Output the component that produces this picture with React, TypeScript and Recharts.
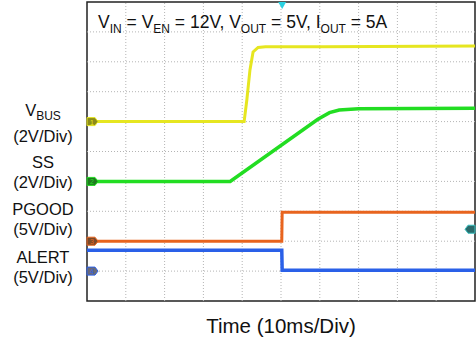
import React from "react";
import {
  LineChart,
  Line,
  XAxis,
  YAxis,
  ReferenceArea,
  ReferenceDot,
  ReferenceLine,
} from "recharts";

// x and y are in scope divisions (10 x 10 grid, y counted from the bottom)
const divTicks = [1, 2, 3, 4, 5, 6, 7, 8, 9];
const minorTicks = [
  0.2, 0.4, 0.6, 0.8, 1.2, 1.4, 1.6, 1.8, 2.2, 2.4, 2.6, 2.8, 3.2, 3.4, 3.6, 3.8, 4.2, 4.4, 4.6, 4.8,
  5.2, 5.4, 5.6, 5.8, 6.2, 6.4, 6.6, 6.8, 7.2, 7.4, 7.6, 7.8, 8.2, 8.4, 8.6, 8.8, 9.2, 9.4, 9.6, 9.8,
];

const vbus = [
  { x: 0, y: 6.0 },
  { x: 4.05, y: 6.0 },
  { x: 4.12, y: 6.73 },
  { x: 4.2, y: 7.73 },
  { x: 4.28, y: 8.33 },
  { x: 4.41, y: 8.48 },
  { x: 4.6, y: 8.5 },
  { x: 6.1, y: 8.5 },
  { x: 10, y: 8.53 },
];

const ss = [
  { x: 0, y: 4.0 },
  { x: 3.69, y: 4.0 },
  { x: 5.95, y: 6.08 },
  { x: 6.25, y: 6.3 },
  { x: 6.5, y: 6.39 },
  { x: 7, y: 6.43 },
  { x: 10, y: 6.45 },
];

const pgood = [
  { x: 0, y: 2.0 },
  { x: 5.02, y: 2.0 },
  { x: 5.03, y: 2.97 },
  { x: 10, y: 2.97 },
];

const alert = [
  { x: 0, y: 1.7 },
  { x: 5.02, y: 1.7 },
  { x: 5.03, y: 1.03 },
  { x: 10, y: 1.03 },
];

const channels = [
  { name: "1", level: 6, fill: "#8c8c1a", edge: "#e6e620" },
  { name: "2", level: 4, fill: "#1f7a1f", edge: "#22dd22" },
  { name: "3", level: 2, fill: "#7a4a2a", edge: "#e8641e" },
  { name: "4", level: 1, fill: "#6a6a78", edge: "#2a60e8" },
];

const triggerTime = 5.03;
const triggerLevel = 2.4;

const font = "'Liberation Sans', Arial, sans-serif";

const ChannelFlag = (props: any) => {
  const { cx, cy, fill, edge, name } = props;
  return (
    <g>
      <path
        d={`M${cx},${cy - 4} L${cx + 8},${cy - 4} L${cx + 11},${cy} L${cx + 8},${cy + 4} L${cx},${cy + 4} Z`}
        fill={fill}
        stroke={edge}
        strokeWidth={1}
      />
      <text x={cx + 5} y={cy + 3} fontSize={7} fill={edge} textAnchor="middle" fontFamily={font}>
        {name}
      </text>
    </g>
  );
};

const TrigFlag = (props: any) => {
  const { cx, cy } = props;
  return (
    <path
      d={`M${cx},${cy - 4} L${cx - 7},${cy - 4} L${cx - 10},${cy} L${cx - 7},${cy + 4} L${cx},${cy + 4} Z`}
      fill="#2a6a6a"
      stroke="#3ac0c0"
      strokeWidth={1}
    />
  );
};

const TrigTri = (props: any) => {
  const { cx, cy } = props;
  return <path d={`M${cx - 4},${cy} L${cx + 4},${cy} L${cx},${cy + 7} Z`} fill="#2ad0e0" />;
};

const sideLabels = [
  { top: 100, lines: [["V", "BUS"], ["(2V/Div)"]] },
  { top: 152, lines: [["SS"], ["(2V/Div)"]] },
  { top: 199, lines: [["PGOOD"], ["(5V/Div)"]] },
  { top: 247, lines: [["ALERT"], ["(5V/Div)"]] },
];

const gridStyle = { stroke: "#b4b4b4", strokeDasharray: "1 2", strokeWidth: 1 };

export default function App() {
  return (
    <div style={{ position: "absolute", left: 0, top: 0, width: 476, height: 351, background: "#fff", fontFamily: font }}>
      <LineChart width={476} height={351} margin={{ top: 2, right: 1, bottom: 50, left: 87 }}>
        <XAxis
          type="number"
          dataKey="x"
          domain={[0, 10]}
          ticks={minorTicks}
          tick={false}
          mirror
          tickSize={3}
          tickLine={{ stroke: "#aaa" }}
          axisLine={false}
          height={0}
        />
        <YAxis
          type="number"
          dataKey="y"
          domain={[0, 10]}
          ticks={minorTicks}
          tick={false}
          mirror
          tickSize={3}
          tickLine={{ stroke: "#aaa" }}
          axisLine={false}
          width={0}
        />
        {divTicks.map((t) => (
          <ReferenceLine key={"v" + t} x={t} {...gridStyle} />
        ))}
        {divTicks.map((t) => (
          <ReferenceLine key={"h" + t} y={t} {...gridStyle} />
        ))}
        <ReferenceArea x1={0} x2={10} y1={0} y2={10} fill="none" stroke="#222" strokeWidth={1.5} strokeOpacity={1} fillOpacity={0} />
        <Line data={vbus} dataKey="y" stroke="#e6e620" strokeWidth={3} dot={false} isAnimationActive={false} type="linear" />
        <Line data={ss} dataKey="y" stroke="#22dd22" strokeWidth={3.5} dot={false} isAnimationActive={false} type="linear" />
        <Line data={pgood} dataKey="y" stroke="#e8641e" strokeWidth={3} dot={false} isAnimationActive={false} type="linear" />
        <Line data={alert} dataKey="y" stroke="#2a60e8" strokeWidth={3.5} dot={false} isAnimationActive={false} type="linear" />
        {channels.map((c) => (
          <ReferenceDot
            key={c.name}
            x={0}
            y={c.level}
            ifOverflow="visible"
            shape={(p: any) => <ChannelFlag {...p} fill={c.fill} edge={c.edge} name={c.name} />}
          />
        ))}
        <ReferenceDot x={10} y={triggerLevel} ifOverflow="visible" shape={(p: any) => <TrigFlag {...p} />} />
        <ReferenceDot x={triggerTime} y={10} ifOverflow="visible" shape={(p: any) => <TrigTri {...p} />} />
      </LineChart>

      <div style={{ position: "absolute", left: 98, top: 12, fontSize: 17.5, color: "#111", whiteSpace: "nowrap", lineHeight: "20px" }}>
        V<sub style={{ fontSize: 12 }}>IN</sub> = V<sub style={{ fontSize: 12 }}>EN</sub> = 12V, V<sub style={{ fontSize: 12 }}>OUT</sub> = 5V, I
        <sub style={{ fontSize: 12 }}>OUT</sub> = 5A
      </div>

      {sideLabels.map((g, i) => (
        <div key={i} style={{ position: "absolute", left: 0, width: 86, top: g.top, textAlign: "center", fontSize: 16.5, lineHeight: "20px", color: "#111" }}>
          {g.lines.map((l, j) => (
            <div key={j}>
              {l[0]}
              {l[1] && <sub style={{ fontSize: 12 }}>{l[1]}</sub>}
            </div>
          ))}
        </div>
      ))}

      <div style={{ position: "absolute", left: 87, width: 388, top: 314, textAlign: "center", fontSize: 20.5, color: "#111" }}>
        Time (10ms/Div)
      </div>
    </div>
  );
}
